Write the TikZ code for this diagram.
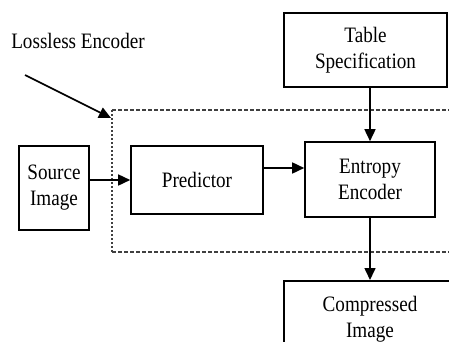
\documentclass[tikz,border=0pt]{standalone}
\usepackage{fontspec}
\setmainfont{Liberation Serif}[FakeStretch=0.87]
\usetikzlibrary{arrows.meta}

\tikzset{
  blockbox/.style={draw, line width=1.6pt, align=center, inner sep=0pt, font=\fontsize{22}{26}\selectfont},
  flowarrow/.style={line width=1.6pt, -{Triangle[length=12pt,width=11pt]}},
  framedash/.style={gray!50!black, line width=1.2pt, dash pattern={on 4pt off 2pt}},
}

\begin{document}
\begin{tikzpicture}[x=1pt,y=1pt,yscale=-1]
\useasboundingbox (0,0) rectangle (449,342);

%Shape: table specification
\node [blockbox, minimum width=163pt, minimum height=74pt] (table) at (365.5,50) {Table\\Specification};

%Shape: lossless encoder frame
\draw [framedash] (112,110) -- (460,110);
\draw [framedash] (112,252) -- (460,252);
\draw [gray!50!black, line width=1.2pt, dash pattern={on 1.5pt off 2.5pt}] (112,110) -- (112,252);

% Text Node
\node [font=\fontsize{22}{26}\selectfont] (lossless) at (78,41) {Lossless Encoder};
\coordinate (tail) at (25,75);
\coordinate (corner) at (111,118);
\draw [flowarrow] (tail) -- (corner);

%Shape: blocks
\node [blockbox, minimum width=70pt, minimum height=84pt] (source) at (54,188) {Source\\Image};
\node [blockbox, minimum width=132pt, minimum height=68pt] (predictor) at (197,180) {Predictor};
\node [blockbox, minimum width=130pt, minimum height=75pt] (entropy) at (370,179.5) {Entropy\\Encoder};
\node [blockbox, anchor=north, minimum width=172pt, minimum height=76pt] (compressed) at (370,280) {Compressed\\Image};

%Straight Lines: connectors
\draw [flowarrow] (predictor.west -| source.east) -- (predictor.west);
\draw [flowarrow] ([yshift=-12pt]predictor.east) -- ([yshift=-12pt]predictor.east -| entropy.west);
\draw [flowarrow] (entropy.north |- table.south) -- (entropy.north);
\draw [flowarrow] (entropy.south) -- (compressed.north);

\end{tikzpicture}
\end{document}
